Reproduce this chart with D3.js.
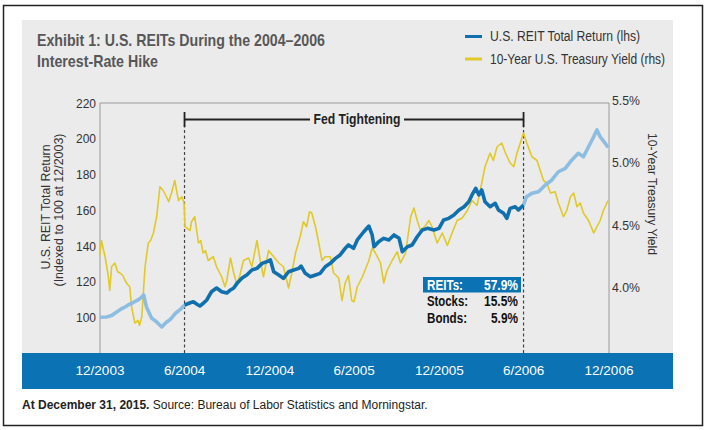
<!DOCTYPE html>
<html>
<head>
<meta charset="utf-8">
<script src="https://cdn.jsdelivr.net/npm/d3@7"></script>
<style>
  body { margin: 0; background: #fff; }
  svg text { font-family: 'Liberation Sans Narrow', 'Arial Narrow', 'Liberation Sans', sans-serif; }
</style>
</head>
<body>
<div id="chart"></div>
<script>
'use strict'

// REIT total return, indexed to 100 at 12/2003
const reitDates = [
  '2003-12-31','2004-01-14','2004-01-25','2004-02-05','2004-02-16','2004-02-24','2004-03-04','2004-03-10',
  '2004-03-17','2004-03-25','2004-04-03','2004-04-09','2004-04-20','2004-05-01','2004-05-12','2004-05-20',
  '2004-05-31','2004-06-11','2004-06-22','2004-06-30','2004-07-11','2004-07-19','2004-07-26','2004-08-02',
  '2004-08-10','2004-08-17','2004-08-27','2004-09-07','2004-09-18','2004-09-29','2004-10-07','2004-10-14',
  '2004-10-21','2004-11-01','2004-11-11','2004-11-22','2004-12-03','2004-12-14','2004-12-24','2005-01-01',
  '2005-01-08','2005-01-19','2005-01-29','2005-02-09','2005-02-20','2005-03-03','2005-03-08','2005-03-17',
  '2005-03-28','2005-04-08','2005-04-18','2005-04-29','2005-05-10','2005-05-21','2005-05-31','2005-06-11',
  '2005-06-18','2005-06-29','2005-07-07','2005-07-21','2005-08-01','2005-08-08','2005-08-12','2005-08-22',
  '2005-09-02','2005-09-13','2005-09-24','2005-10-05','2005-10-12','2005-10-23','2005-11-02','2005-11-13',
  '2005-11-24','2005-12-05','2005-12-19','2005-12-30','2006-01-09','2006-01-20','2006-01-31','2006-02-11',
  '2006-02-22','2006-03-04','2006-03-11','2006-03-19','2006-03-26','2006-04-01','2006-04-08','2006-04-19',
  '2006-04-30','2006-05-07','2006-05-18','2006-05-25','2006-06-01','2006-06-12','2006-06-19','2006-06-30',
  '2006-07-06','2006-07-18','2006-08-01','2006-08-16','2006-08-30','2006-09-13','2006-09-28','2006-10-12',
  '2006-10-26','2006-11-06','2006-11-17','2006-11-28','2006-12-05','2006-12-12','2006-12-23','2006-12-29'
]
const reitValues = [
  100.0, 100.2, 101.0, 103.0, 104.9, 105.9, 107.4, 108.0,
  109.1, 110.2, 112.5, 105.8, 99.6, 97.4, 94.6, 96.8,
  99.0, 102.4, 104.6, 106.9, 108.0, 108.7, 107.4, 106.3,
  108.0, 109.7, 114.3, 116.4, 114.3, 113.6, 115.3, 116.4,
  119.0, 122.0, 123.7, 126.5, 127.4, 130.2, 131.1, 132.1,
  125.5, 123.7, 121.8, 125.5, 126.5, 127.4, 128.7, 124.6,
  122.7, 123.7, 124.6, 128.3, 130.2, 133.0, 134.9, 138.6,
  140.5, 138.6, 143.3, 147.9, 151.1, 146.1, 139.5, 142.3,
  144.2, 143.3, 146.1, 144.2, 136.7, 139.5, 140.5, 145.1,
  148.9, 149.8, 148.9, 149.8, 154.5, 155.4, 157.3, 160.1,
  161.9, 164.7, 168.5, 172.2, 168.5, 171.3, 164.7, 161.9,
  163.8, 160.1, 158.2, 155.4, 161.0, 161.9, 160.1, 162.9,
  167.5, 169.4, 170.3, 174.1, 176.9, 181.5, 183.4, 188.1,
  191.8, 189.9, 195.5, 201.1, 204.9, 201.1, 197.4, 195.0
]

// 10-year treasury yield, percent
const yieldDates = [
  '2003-12-31','2004-01-03','2004-01-11','2004-01-18','2004-01-21','2004-01-25','2004-02-01','2004-02-07',
  '2004-02-12','2004-02-18','2004-02-23','2004-02-28','2004-03-04','2004-03-08','2004-03-15','2004-03-22',
  '2004-03-25','2004-03-30','2004-04-06','2004-04-13','2004-04-18','2004-04-24','2004-05-01','2004-05-08',
  '2004-05-15','2004-05-22','2004-05-27','2004-06-02','2004-06-09','2004-06-17','2004-06-24','2004-06-29',
  '2004-07-01','2004-07-12','2004-07-15','2004-07-22','2004-07-30','2004-08-04','2004-08-09','2004-08-14',
  '2004-08-20','2004-08-31','2004-09-07','2004-09-18','2004-09-25','2004-09-29','2004-10-07','2004-10-14',
  '2004-10-21','2004-10-27','2004-11-04','2004-11-15','2004-11-22','2004-12-03','2004-12-10','2004-12-17',
  '2004-12-28','2005-01-08','2005-01-19','2005-01-29','2005-02-09','2005-02-16','2005-02-24','2005-03-06',
  '2005-03-13','2005-03-20','2005-03-26','2005-03-31','2005-04-08','2005-04-15','2005-04-22','2005-04-29',
  '2005-05-10','2005-05-17','2005-05-28','2005-06-04','2005-06-11','2005-06-18','2005-06-25','2005-06-30',
  '2005-07-07','2005-07-18','2005-08-01','2005-08-08','2005-08-15','2005-08-26','2005-09-02','2005-09-09',
  '2005-09-20','2005-10-01','2005-10-08','2005-10-19','2005-10-30','2005-11-06','2005-11-13','2005-11-20',
  '2005-12-01','2005-12-08','2005-12-15','2005-12-26','2006-01-06','2006-01-17','2006-01-27','2006-02-07',
  '2006-02-18','2006-03-01','2006-03-11','2006-03-22','2006-04-01','2006-04-08','2006-04-19','2006-04-26',
  '2006-05-04','2006-05-14','2006-05-22','2006-06-01','2006-06-09','2006-06-16','2006-06-23','2006-06-30',
  '2006-07-07','2006-07-18','2006-07-29','2006-08-05','2006-08-12','2006-08-19','2006-08-27','2006-09-06',
  '2006-09-13','2006-09-24','2006-10-01','2006-10-09','2006-10-16','2006-10-23','2006-10-30','2006-11-06',
  '2006-11-17','2006-11-28','2006-12-05','2006-12-12','2006-12-19','2006-12-29'
]
const yieldValues = [
  4.28, 4.40, 4.27, 4.11, 4.00, 4.19, 4.22, 4.15,
  4.14, 4.12, 4.08, 4.05, 4.03, 3.87, 3.74, 3.76,
  3.72, 3.79, 4.19, 4.38, 4.40, 4.46, 4.59, 4.83,
  4.80, 4.75, 4.71, 4.78, 4.88, 4.72, 4.75, 4.70,
  4.51, 4.48, 4.55, 4.59, 4.38, 4.40, 4.30, 4.32,
  4.24, 4.27, 4.19, 4.11, 4.03, 4.08, 4.26, 4.14,
  4.04, 4.12, 4.24, 4.26, 4.19, 4.40, 4.24, 4.11,
  4.32, 4.27, 4.22, 4.19, 4.02, 4.14, 4.30, 4.43,
  4.55, 4.51, 4.63, 4.62, 4.51, 4.38, 4.24, 4.27,
  4.27, 4.14, 4.10, 3.92, 4.06, 4.12, 3.92, 3.91,
  4.03, 4.11, 4.24, 4.34, 4.30, 4.22, 4.06, 4.16,
  4.24, 4.31, 4.22, 4.30, 4.59, 4.66, 4.56, 4.48,
  4.52, 4.56, 4.51, 4.38, 4.46, 4.36, 4.46, 4.56,
  4.58, 4.64, 4.72, 4.68, 4.86, 4.99, 5.10, 5.04,
  5.15, 5.18, 5.10, 5.02, 4.99, 5.10, 5.18, 5.26,
  5.18, 5.07, 5.04, 4.96, 4.88, 4.86, 4.78, 4.79,
  4.70, 4.59, 4.64, 4.75, 4.78, 4.67, 4.70, 4.62,
  4.56, 4.46, 4.51, 4.56, 4.64, 4.72
]

// axes
const xTicks = ['2003-12-31','2004-06-30','2004-12-31','2005-06-30','2005-12-31','2006-06-30','2006-12-31']
const xTickLabels = ['12/2003','6/2004','12/2004','6/2005','12/2005','6/2006','12/2006']
const leftTicks = [100, 120, 140, 160, 180, 200, 220]
const rightTicks = [4.0, 4.5, 5.0, 5.5]

// tightening period and performance box
const fedPeriod = ['2004-06-30', '2006-06-30']
const perfLabels = ['REITs:', 'Stocks:', 'Bonds:']
const perfValues = ['57.9%', '15.5%', '5.9%']

////////////////////////////////////
//////////// svg setup /////////////
////////////////////////////////////

const svgWidth = 710
const svgHeight = 430
const plot = { left: 100, right: 609, top: 103, bottom: 353 }

const parse = d3.timeParse('%Y-%m-%d')
const reit = reitDates.map((d, i) => ({ date: parse(d), value: reitValues[i] }))
const yld = yieldDates.map((d, i) => ({ date: parse(d), value: yieldValues[i] }))
const fedStart = parse(fedPeriod[0])
const fedEnd = parse(fedPeriod[1])

const svg = d3.select('#chart').append('svg')
    .attr('width', svgWidth)
    .attr('height', svgHeight)
    .attr('viewBox', `0 0 ${svgWidth} ${svgHeight}`)

const x = d3.scaleTime()
    .domain([parse('2003-12-31'), parse('2006-12-31')])
    .range([plot.left, plot.right])
const yL = d3.scaleLinear().domain([80, 220]).range([plot.bottom, plot.top])
const yR = d3.scaleLinear().domain([3.5, 5.5]).range([plot.bottom, plot.top])

// narrow look: squeeze a text to the width it has in the original
const squeeze = (sel, w) => sel.attr('textLength', w).attr('lengthAdjust', 'spacingAndGlyphs')

// frame, panel, x band
svg.append('rect')
    .attr('x', 3.5).attr('y', 5.5).attr('width', 699).attr('height', 420)
    .attr('fill', '#fff').attr('stroke', '#222').attr('stroke-width', 1.5)

svg.append('rect')
    .attr('x', 22).attr('y', 20).attr('width', 651).attr('height', 333)
    .attr('fill', '#ebebeb')

svg.append('rect')
    .attr('x', 22).attr('y', 353).attr('width', 651).attr('height', 36)
    .attr('fill', '#0b72b3')

// plot frame (left, top, right)
svg.append('path')
    .attr('d', `M${plot.left},${plot.bottom}V${plot.top}H${plot.right}V${plot.bottom}`)
    .attr('fill', 'none').attr('stroke', '#9a9a9a').attr('stroke-width', 1)

// title
svg.append('text')
    .attr('x', 37).attr('y', 46)
    .attr('font-size', 17).attr('font-weight', 'bold').attr('fill', '#575757')
    .text('Exhibit 1: U.S. REITs During the 2004–2006')
    .call(squeeze, 288)
svg.append('text')
    .attr('x', 37).attr('y', 67)
    .attr('font-size', 17).attr('font-weight', 'bold').attr('fill', '#575757')
    .text('Interest-Rate Hike')
    .call(squeeze, 121)

// legend
const legend = svg.append('g')
legend.append('line')
    .attr('x1', 465).attr('x2', 482).attr('y1', 36.5).attr('y2', 36.5)
    .attr('stroke', '#1070ad').attr('stroke-width', 3)
legend.append('line')
    .attr('x1', 465).attr('x2', 482).attr('y1', 59).attr('y2', 59)
    .attr('stroke', '#e0c929').attr('stroke-width', 3)
legend.append('text')
    .attr('x', 490).attr('y', 41)
    .attr('font-size', 14).attr('fill', '#333')
    .text('U.S. REIT Total Return (lhs)')
    .call(squeeze, 150)
legend.append('text')
    .attr('x', 490).attr('y', 63.5)
    .attr('font-size', 14).attr('fill', '#333')
    .text('10-Year U.S. Treasury Yield (rhs)')
    .call(squeeze, 175)

// left axis labels
svg.append('g')
    .selectAll('text')
    .data(leftTicks)
    .join('text')
    .attr('x', plot.left - 4)
    .attr('y', d => yL(d))
    .attr('dy', '0.35em')
    .attr('text-anchor', 'end')
    .attr('font-size', 13.5).attr('fill', '#333')
    .text(d => d)
    .call(squeeze, 20)

// right axis labels
svg.append('g')
    .selectAll('text')
    .data(rightTicks)
    .join('text')
    .attr('x', plot.right + 3)
    .attr('y', d => yR(d) - 3)
    .attr('dy', '0.35em')
    .attr('font-size', 13.5).attr('fill', '#333')
    .text(d => d.toFixed(1) + '%')
    .call(squeeze, 28)

// x axis labels
svg.append('g')
    .selectAll('text')
    .data(xTicks)
    .join('text')
    .attr('x', d => x(parse(d)))
    .attr('y', 375)
    .attr('text-anchor', 'middle')
    .attr('font-size', 13.5).attr('fill', '#fff')
    .text((d, i) => xTickLabels[i])

// axis titles
svg.append('text')
    .attr('transform', 'translate(50,207) rotate(-90)')
    .attr('text-anchor', 'middle')
    .attr('font-size', 13.5).attr('fill', '#333')
    .text('U.S. REIT Total Return')
    .call(squeeze, 125)
svg.append('text')
    .attr('transform', 'translate(63,210) rotate(-90)')
    .attr('text-anchor', 'middle')
    .attr('font-size', 13.5).attr('fill', '#333')
    .text('(Indexed to 100 at 12/2003)')
    .call(squeeze, 153)
svg.append('text')
    .attr('transform', 'translate(648,194) rotate(90)')
    .attr('text-anchor', 'middle')
    .attr('font-size', 13.5).attr('fill', '#333')
    .text('10-Year Treasury Yield')
    .call(squeeze, 122)

// Fed tightening bracket
const xa = x(fedStart), xb = x(fedEnd)
svg.selectAll('.fed-dash')
    .data([fedStart, fedEnd])
    .join('line')
    .attr('class', 'fed-dash')
    .attr('x1', d => x(d)).attr('x2', d => x(d))
    .attr('y1', 119).attr('y2', plot.bottom)
    .attr('stroke', '#444').attr('stroke-width', 1.2).attr('stroke-dasharray', '3,2.5')
svg.append('path')
    .attr('d', `M${xa},112V127M${xa},119.5H310M404,119.5H${xb}M${xb},112V127`)
    .attr('fill', 'none').attr('stroke', '#222').attr('stroke-width', 1.8)
svg.append('text')
    .attr('x', 357).attr('y', 124)
    .attr('text-anchor', 'middle')
    .attr('font-size', 14).attr('font-weight', 'bold').attr('fill', '#222')
    .text('Fed Tightening')
    .call(squeeze, 87)

// lines
const lineL = d3.line().x(d => x(d.date)).y(d => yL(d.value))
const lineR = d3.line().x(d => x(d.date)).y(d => yR(d.value))

svg.append('path')
    .datum(yld)
    .attr('d', lineR)
    .attr('fill', 'none').attr('stroke', '#e0c929').attr('stroke-width', 1.6)
    .attr('stroke-linejoin', 'round')

const before = reit.filter(d => d.date <= fedStart)
const during = reit.filter(d => d.date >= fedStart && d.date <= fedEnd)
const after = reit.filter(d => d.date >= fedEnd)

svg.selectAll('.reit-light')
    .data([before, after])
    .join('path')
    .attr('class', 'reit-light')
    .attr('d', lineL)
    .attr('fill', 'none').attr('stroke', '#8dbde0').attr('stroke-width', 3.6)
    .attr('stroke-linejoin', 'round')
svg.append('path')
    .datum(during)
    .attr('d', lineL)
    .attr('fill', 'none').attr('stroke', '#1070ad').attr('stroke-width', 3.6)
    .attr('stroke-linejoin', 'round')

// performance box
const labelWidths = [36, 41, 40]
const valueWidths = [34, 34, 27]
svg.append('rect')
    .attr('x', 423).attr('y', 277).attr('width', 98).attr('height', 15.5)
    .attr('fill', '#0b72b3')
const perf = svg.append('g')
perf.selectAll('.perf-label')
    .data(perfLabels)
    .join('text')
    .attr('class', 'perf-label')
    .attr('x', 427).attr('y', (d, i) => 289.5 + i * 16.5)
    .attr('font-size', 14).attr('font-weight', 'bold')
    .attr('fill', (d, i) => i === 0 ? '#fff' : '#111')
    .text(d => d)
    .attr('textLength', (d, i) => labelWidths[i])
    .attr('lengthAdjust', 'spacingAndGlyphs')
perf.selectAll('.perf-value')
    .data(perfValues)
    .join('text')
    .attr('class', 'perf-value')
    .attr('x', 518).attr('y', (d, i) => 289.5 + i * 16.5)
    .attr('text-anchor', 'end')
    .attr('font-size', 14).attr('font-weight', 'bold')
    .attr('fill', (d, i) => i === 0 ? '#fff' : '#111')
    .text(d => d)
    .attr('textLength', (d, i) => valueWidths[i])
    .attr('lengthAdjust', 'spacingAndGlyphs')

// footer
const foot = svg.append('text')
    .attr('x', 22).attr('y', 409)
    .attr('font-size', 12).attr('fill', '#222')
foot.append('tspan').attr('font-weight', 'bold').text('At December 31, 2015.')
foot.append('tspan').text(' Source: Bureau of Labor Statistics and Morningstar.')
</script>
</body>
</html>
